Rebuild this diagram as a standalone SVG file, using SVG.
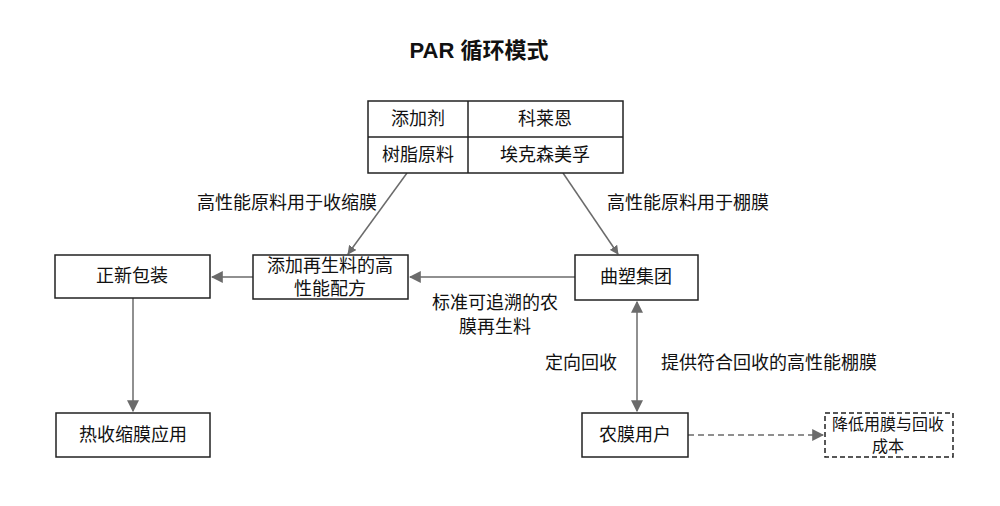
<svg xmlns="http://www.w3.org/2000/svg" width="1000" height="506" viewBox="0 0 1000 506">
<defs>
<style>
.t{font-family:"Liberation Sans","Noto Sans CJK SC",sans-serif;font-size:18px;fill:#111;text-anchor:middle;dominant-baseline:central}
.b{fill:#fff;stroke:#222;stroke-width:1.5}
.c{stroke:#6b6b6b;stroke-width:1.5;fill:none}
</style>
<marker id="ah" viewBox="0 0 10 10" refX="9" refY="5" markerWidth="9" markerHeight="9" markerUnits="userSpaceOnUse" orient="auto-start-reverse">
<path d="M0,0 L10,5 L0,10 z" fill="#6b6b6b"/>
</marker>
<marker id="ah2" viewBox="0 0 10 10" refX="9" refY="5" markerWidth="12" markerHeight="12" markerUnits="userSpaceOnUse" orient="auto-start-reverse">
<path d="M0,0 L10,5 L0,10 z" fill="#6b6b6b"/>
</marker>
</defs>
<rect width="1000" height="506" fill="#fff"/>
<text class="t" x="479" y="50" style="font-size:22px;font-weight:bold">PAR 循环模式</text>
<g id="connectors">
<line class="c" x1="407" y1="173" x2="348" y2="254" marker-end="url(#ah)"/>
<line class="c" x1="563" y1="173" x2="618" y2="254" marker-end="url(#ah)"/>
<line class="c" x1="575" y1="277" x2="410" y2="277" marker-end="url(#ah2)"/>
<line class="c" x1="253" y1="277" x2="212" y2="277" marker-end="url(#ah2)"/>
<line class="c" x1="133" y1="297" x2="133" y2="411" marker-end="url(#ah2)"/>
<line class="c" x1="637" y1="302" x2="637" y2="411" marker-start="url(#ah2)" marker-end="url(#ah2)"/>
<line class="c" x1="688" y1="435" x2="823" y2="435" stroke-dasharray="6,4" marker-end="url(#ah2)"/>
<text class="t" x="287" y="203">高性能原料用于收缩膜</text>
<text class="t" x="688" y="203">高性能原料用于棚膜</text>
<text class="t" x="495" y="303">标准可追溯的农</text>
<text class="t" x="495" y="327">膜再生料</text>
<text class="t" x="581" y="363">定向回收</text>
<text class="t" x="769" y="363">提供符合回收的高性能棚膜</text>
</g>
<g id="table">
<rect class="b" x="368" y="101" width="255" height="72"/>
<line x1="468" y1="101" x2="468" y2="173" stroke="#222" stroke-width="1.5"/>
<line x1="368" y1="137" x2="623" y2="137" stroke="#222" stroke-width="1.5"/>
<text class="t" x="418" y="119">添加剂</text>
<text class="t" x="545" y="119">科莱恩</text>
<text class="t" x="418" y="155">树脂原料</text>
<text class="t" x="545" y="155">埃克森美孚</text>
</g>
<g id="zhengxin">
<rect class="b" x="55" y="255" width="155" height="43"/>
<text class="t" x="132" y="276">正新包装</text>
</g>
<g id="formula">
<rect class="b" x="253" y="255" width="155" height="44"/>
<text class="t" x="330" y="266">添加再生料的高</text>
<text class="t" x="330" y="289">性能配方</text>
</g>
<g id="qusu">
<rect class="b" x="575" y="255" width="123" height="45"/>
<text class="t" x="636" y="277">曲塑集团</text>
</g>
<g id="shrink">
<rect class="b" x="56" y="413" width="154" height="44"/>
<text class="t" x="133" y="435">热收缩膜应用</text>
</g>
<g id="users">
<rect class="b" x="582" y="413" width="106" height="44"/>
<text class="t" x="635" y="435">农膜用户</text>
</g>
<g id="cost">
<rect class="b" x="825" y="413" width="128" height="44" stroke-dasharray="5,3"/>
<text class="t" x="888" y="424" style="font-size:16px">降低用膜与回收</text>
<text class="t" x="888" y="446" style="font-size:16px">成本</text>
</g>
</svg>
